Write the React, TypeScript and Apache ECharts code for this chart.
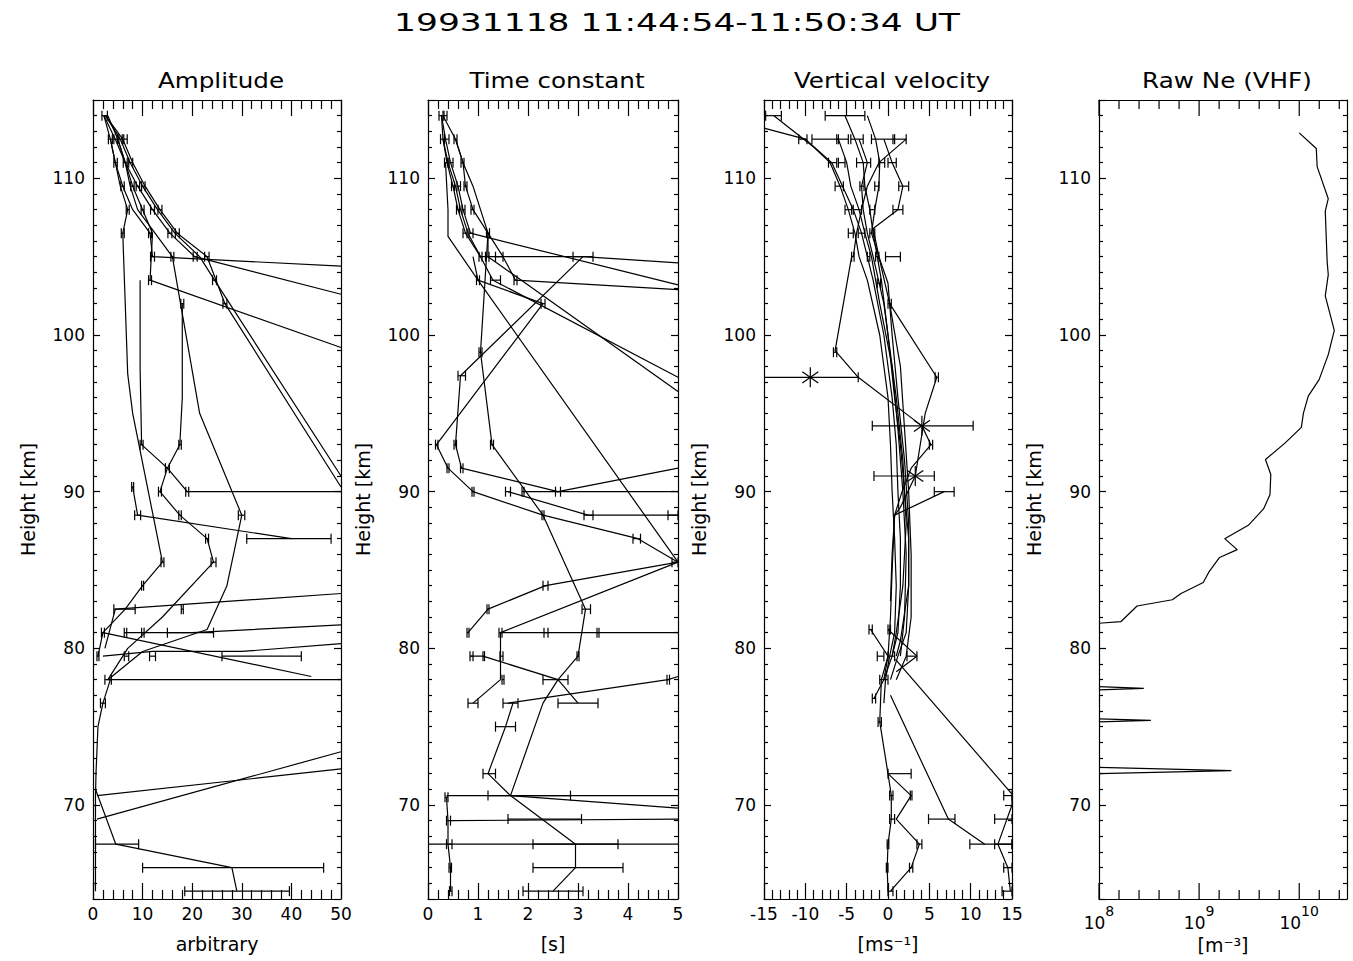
import React, { useEffect, useRef } from "react";
import * as echarts from "echarts";

const FONT = "DejaVu Sans";
const H_MIN = 64;
const H_MAX = 115;

const mainTitle = "19931118 11:44:54-11:50:34 UT";
const panelTitles = ["Amplitude", "Time constant", "Vertical velocity", "Raw Ne (VHF)"];
const xNames = ["arbitrary", "[s]", "[ms⁻¹]", "[m⁻³]"];
const yName = "Height [km]";

// ---------- Panel 1: Amplitude (value, height) ----------
const amp01 = [[2.2,114],[3.5,112.5],[4.5,111],[6,109.5],[8,108],[11.5,106.5],[12,105],[50,104.4]];
const amp02 = [[2.2,114],[4.5,112.5],[6.5,111],[9,109.5],[12,108],[15.5,106.5],[20.5,105],[50,102.6]];
const amp03 = [[2.5,114],[5.5,112.5],[7.5,111],[10,109.5],[13,108],[16.5,106.5],[21.5,105],[24.5,103.5],[50,91]];
const amp04 = [[2.5,114],[6,112.5],[8,111],[10.5,109.5],[13.5,108],[17,106.5],[23,105],[26.6,102],[50,90.3]];
const amp05 = [[3,114],[5,112.5],[6.5,111],[8,109.5],[10,108],[12,106.5],[11.5,103.5],[50,99.2]];
const amp06 = [[3.5,112.5],[4.5,111],[5.5,109.5],[7,108],[6,106.5],[7,97.5],[8,95],[14,85.5],[10,84],[6.5,82.5],[2,81],[1,79.5]];
const amp07 = [[5,112.5],[6.5,111],[7.5,109.5],[9,108],[12.5,106.5],[16,105],[21.5,95],[30,88.5],[27,84],[23,81.2],[10,79.8],[3,78]];
const amp08 = [[9.5,103.5],[9.5,97.8],[9.8,93],[15,91.5],[19,90],[50,90]];
const amp09 = [[18,102],[18,96],[17.5,93],[15,91.5],[13.5,90],[17.5,88.5],[23,87],[24.3,85.5],[14,82],[7,80],[3,78]];
const amp10 = [[8,90.3],[9,88.5],[40,87]];
const amp11 = [[2.4,80],[4.5,82.5],[50,83.5]];
const amp12 = [[2,81],[44,78.2]];
const amp13 = [[6.5,81],[20,81],[50,81.5]];
const amp14 = [[2,79.5],[12,79.8],[30,79.8],[50,80.3]];
const amp15 = [[3,78],[50,78]];
const amp16 = [[3.5,78],[2,76.5],[1,75],[0.6,72],[0.5,70.5],[0.5,67.5],[0.5,64.5]];
const amp17 = [[0.8,70.6],[50,72.3]];
const amp18 = [[0.8,69.1],[50,73.4]];
const amp19 = [[0.5,71],[4.6,67.5],[28,66],[29,64.5]];
const ampLines = [amp01,amp02,amp03,amp04,amp05,amp06,amp07,amp08,amp09,amp10,amp11,amp12,amp13,amp14,amp15,amp16,amp17,amp18,amp19];
// error bars: [height, low, high]
const ampErr = [
  [114,1.8,2.9],
  [112.5,3.1,3.9],[112.5,4.2,4.9],[112.5,5.2,5.9],[112.5,6.2,6.9],
  [111,4.2,4.9],[111,6.1,6.9],[111,7.2,8],
  [109.5,5.6,6.3],[109.5,7.6,8.3],[109.5,8.7,9.4],[109.5,9.8,10.5],
  [108,6.7,7.3],[108,9.7,10.3],[108,11.6,12.4],[108,13.1,13.9],
  [106.5,5.7,6.3],[106.5,11.2,11.8],[106.5,15.1,15.9],[106.5,16.6,17.4],
  [105,11.6,12.4],[105,15.7,16.3],[105,20.2,21],[105,22.5,23.4],
  [103.5,11.2,11.8],[103.5,24.1,24.9],
  [102,26.2,27],[102,17.7,18.3],
  [93,9.5,10.1],[93,17.3,17.8],[91.5,14.6,15.4],
  [90.3,7.8,8.2],[90,13.2,13.8],[90,18.7,19.3],
  [88.5,8.4,9.6],[88.5,17.3,17.8],[88.5,29.3,30.6],
  [87,22.7,23.3],[87,31,48],
  [85.5,13.7,14.3],[85.5,23.8,24.8],
  [84,9.8,10.2],
  [82.5,4.2,8.5],[82.5,17.8,18.2],
  [81,1.7,2.3],[81,6.3,6.8],[81,9.8,10.3],[81,15,24.3],
  [79.5,0.8,1.2],[79.5,6.3,7.2],[79.5,11.4,12.6],[79.5,26,42],
  [78,2.4,3.7],[76.5,1.5,2.5],
  [67.5,0.5,9.2],[66,10,46.5],[64.5,18.5,39.6],
];

// ---------- Panel 2: Time constant [s] ----------
const tc01 = [[0.27,114],[0.3,112.5],[0.38,111],[0.5,109.5],[0.6,108],[0.75,106.5],[1.05,105],[3.1,105],[5,104.6]];
const tc02 = [[0.27,114],[0.35,112.5],[0.45,111],[0.6,109.5],[0.7,108],[0.85,106.5],[5,103.2]];
const tc03 = [[0.3,114],[0.55,112.5],[0.7,111],[0.75,109.5],[0.9,108],[1.2,106.5],[1.5,105],[1.75,103.5],[5,102.9]];
const tc04 = [[0.3,112.5],[0.4,111],[0.55,109.5],[0.65,108],[0.8,106.5],[1.05,105],[1.3,103.5],[5,97.3]];
const tc05 = [[0.55,112.5],[0.7,111],[0.9,109.5],[1.05,108],[1.2,106.5],[1.2,105],[5,96.4]];
const tc06 = [[0.35,111],[0.4,108],[0.4,106.3],[1.0,103.5],[2.3,102],[0.17,93],[0.4,91.5],[0.9,90],[2.3,88.5],[4.2,87],[5,85.5]];
const tc07 = [[3.1,105],[0.65,97.4],[0.55,93],[0.67,91.5],[2.6,90],[5,91.5]];
const tc08 = [[1.2,106.5],[1.05,98.9],[1.28,93],[2.3,88.5],[3.15,82.5],[3.0,79.5],[2.6,78],[2.3,76.5],[1.65,70.6],[2.95,67.5],[2.95,66],[2.5,64.5]];
const tc09 = [[1.6,90],[3.2,88.5],[4.9,88.5],[5,88.5]];
const tc10 = [[1.9,90],[2.6,90],[5,90]];
const tc11 = [[0.8,81],[1.2,82.5],[2.35,84],[5,85.5]];
const tc12 = [[1.45,78],[1.45,79.5],[1.45,81],[5,85.5]];
const tc13 = [[1.45,81],[5,81]];
const tc14 = [[0.85,79.5],[1.1,79.5],[2.6,78],[3.0,76.5]];
const tc15 = [[1.45,78],[0.9,76.5]];
const tc16 = [[1.6,76.5],[4.8,78],[5,78.2]];
const tc17 = [[1.7,76.5],[1.55,75],[1.2,72],[1.65,70.6],[5,69.8]];
const tc18 = [[0.37,70.6],[5,70.6]];
const tc19 = [[0.45,69],[5,69.1]];
const tc20 = [[0,67.5],[5,67.5]];
const tc21 = [[0.37,70.5],[0.4,69],[0.4,67.5],[0.45,66],[0.45,64.5]];
const tc22 = [[0.9,105],[1.0,103.5],[5,85.5]];
const tcLines = [tc01,tc02,tc03,tc04,tc05,tc06,tc07,tc08,tc09,tc10,tc11,tc12,tc13,tc14,tc15,tc16,tc17,tc18,tc19,tc20,tc21,tc22];
const tcErr = [
  [114,0.22,0.32],[114,0.3,0.38],
  [112.5,0.25,0.33],[112.5,0.33,0.42],[112.5,0.52,0.58],
  [111,0.33,0.4],[111,0.42,0.5],[111,0.66,0.72],
  [109.5,0.47,0.53],[109.5,0.58,0.65],[109.5,0.72,0.78],
  [108,0.57,0.63],[108,0.68,0.74],[108,0.86,0.92],
  [106.5,0.7,0.78],[106.5,0.82,0.9],[106.5,1.17,1.23],
  [105,1.02,1.08],[105,1.15,1.22],[105,1.35,1.5],[105,2.9,3.3],
  [103.5,0.97,1.03],[103.5,1.25,1.45],[103.5,1.72,1.78],
  [102,2.26,2.34],[98.9,1.02,1.08],[97.4,0.6,0.75],
  [93,0.15,0.2],[93,0.52,0.57],[93,1.25,1.31],
  [91.5,0.38,0.42],[91.5,0.65,0.7],
  [90,0.88,0.92],[90,1.55,1.65],[90,1.88,1.92],[90,2.55,2.65],
  [88.5,2.28,2.32],[88.5,3.12,3.3],[88.5,4.8,5],
  [87,4.1,4.25],[85.5,4.88,5],[84,2.3,2.4],
  [82.5,1.18,1.22],[82.5,3.08,3.25],
  [81,0.78,0.82],[81,1.42,1.48],[81,2.32,2.4],[81,3.38,3.42],
  [79.5,0.84,0.9],[79.5,1.1,1.13],[79.5,1.44,1.5],[79.5,2.98,3.02],
  [78,1.48,1.52],[78,2.3,2.8],[78,4.78,4.83],
  [76.5,0.8,1],[76.5,1.5,1.8],[76.5,2.6,3.4],
  [75,1.35,1.75],[72,1.1,1.35],
  [70.6,1.2,2.85],[69.1,1.6,3.07],[67.5,2.1,3.8],[66,2.1,3.9],[64.5,1.9,3.1],
  [70.5,0.34,0.4],[69,0.37,0.45],[67.5,0.37,0.48],[66,0.42,0.47],[64.5,0.43,0.48],
];

// ---------- Panel 3: Vertical velocity [m/s] ----------
const vv01 = [[-13.8,114],[-9,112],[-7,111],[-5.8,109.5],[-4.8,108],[-4,106.5],[-3.5,105],[-2.5,103.5],[-1,100],[0,96],[0.3,93],[0.5,90],[0.8,87],[1,84],[0.8,81],[0.2,79.5],[-0.3,78],[-0.5,76.5]];
const vv02 = [[-15,113.2],[-10,112.5],[-6.8,111],[-5.5,109.5],[-4.2,108],[-3.2,106.5],[-2.5,105],[-1.8,103.5],[-0.5,100],[0.5,96],[1,93],[1.2,90],[1.5,87],[1.5,84],[1.2,81],[0.5,79.5],[-0.5,78],[-1.7,76.8]];
const vv03 = [[-5.2,114],[-4,112.5],[-3,111],[-2.8,109.5],[-2.2,108],[-1.8,106.5],[-1.3,105],[-0.8,103.5],[0,100],[0.8,96],[1.5,93],[2,90],[2.5,87],[2.5,84],[2.2,81],[1.2,79.5],[0.3,78]];
const vv04 = [[-2.5,114],[-1.5,112.5],[-1,111],[-1.1,109.5],[-1.6,108],[-2,106.5],[-1.1,105],[0.2,102],[1.5,98],[2,94],[2.5,90],[2.8,86],[2.8,82],[2.2,79.5],[1,78]];
const vv05 = [[-4.4,105],[-6.4,99],[-3.6,97.3],[4.1,94.2],[5.2,93],[2.8,91.5],[1.7,90],[0.8,88.5],[0.5,85],[0.3,82],[0,79.5],[-0.8,78],[-1,75.3],[0,72],[0.4,70.6],[0.4,69.1],[0,67.5],[-0.1,66],[0,64.5]];
const vv06 = [[0.2,102],[5.9,97.3],[4.5,95],[3.3,91],[1.5,89],[0.8,88.5]];
const vv07 = [[6.8,90],[0.8,88.5],[0.5,86],[0.3,83]];
const vv08 = [[2.2,112.5],[-1.1,111],[-2.5,109.5],[-3.2,108],[-3.8,106.5],[-4.2,105]];
const vv09 = [[-0.5,112.5],[0.5,111],[1.8,109.5],[1.2,108],[-1.8,106.8],[-1.1,105],[0,103.3],[0.5,100],[1.2,96],[2,92],[2.5,88],[2.5,84],[1.5,80.5],[1,79.5]];
const vv10 = [[-2.1,81.2],[0,79.5],[-0.5,78]];
const vv11 = [[0.9,79.3],[15,70.7]];
const vv12 = [[0.3,77],[7.3,69.1],[11.7,67.5]];
const vv13 = [[15,70.6],[15,70],[13.3,67.5],[14.5,66],[14.8,64.5]];
const vv14 = [[0,72],[2.8,70.6],[1,69.1],[3.8,67.5],[2.8,66],[0.3,64.5]];
const vv15 = [[0,81.2],[3.5,79.5],[1,78.5]];
const vv16 = [[-6,112.5],[-5,111],[-4.5,109.5],[-3.5,108],[-2.8,106.5],[-2,105],[-1,102],[0.5,98],[1.2,94],[1.8,90],[2.2,86],[2,82],[1.5,79.5]];
const vv17 = [[-3.5,112.5],[-2.5,111],[-3.2,109.5],[-3,108],[-2.5,106.5],[-1.8,105],[-0.5,102],[1,96],[1.8,92],[2.2,88],[1.8,84],[1,81],[0.5,79.5]];
const vvLines = [vv01,vv02,vv03,vv04,vv05,vv06,vv07,vv08,vv09,vv10,vv11,vv12,vv13,vv14,vv15,vv16,vv17];
const vvErr = [
  [114,-14.8,-12.9],[114,-7.6,-2.8],
  [112.5,-10.8,-9.8],[112.5,-9.2,-6],[112.5,-6.2,-4.8],[112.5,-4.5,-3],[112.5,-2,0.8],[112.5,0.6,2.2],
  [111,-7.2,-6.2],[111,-6,-5.2],[111,-3.8,-2.1],[111,-1.1,-0.4],[111,0,1],
  [109.5,-6.4,-5.4],[109.5,-3.4,-2.9],[109.5,-1.6,-1.1],[109.5,1.3,2.5],
  [108,-5.2,-4.4],[108,-4.2,-3.2],[108,-2.2,-1.6],[108,0.6,1.8],
  [106.5,-4.8,-4.2],[106.5,-3.6,-2.8],[106.5,-2.2,-1.6],
  [105,-4.4,-4.1],[105,-2.5,-2.2],[105,-1.5,-1.1],[105,-0.3,1.5],
  [103.3,-1.3,-0.9],[102,0,0.4],[98.9,-6.6,-6.2],[97.3,-15,-3.6],[97.3,5.7,6.1],
  [94.2,-1.9,10.3],[93,5,5.4],[91,-1.7,5.6],[90,5.6,8.0],
  [81.2,-2.3,-1.9],[81.2,0,0.3],[79.5,-1.3,-0.5],[79.5,0,0.8],[79.5,2.3,3.5],[78,-1,0],[76.8,-1.9,-1.5],[75.3,-1.2,-0.8],
  [72,0,2.8],[70.6,0.2,0.6],[70.6,2.7,2.9],[70.6,14,15],[69.1,0.2,0.8],[69.1,4.9,8.1],[69.1,12.9,15],
  [67.5,-0.1,0.1],[67.5,3.5,4.1],[67.5,9.9,15],[67.5,12.9,15],[66,-0.2,0],[66,2.6,3.0],[66,14,15],[64.5,0,0.6],[64.5,13.8,15],
];
const vvStars = [[-9.4,97.3],[4.1,94.2],[3.3,91]];

// ---------- Panel 4: Raw Ne (VHF) [m^-3] ----------
const neProfile = [[1.0e10,112.9],[1.48e10,111.9],[1.51e10,110.75],[1.95e10,108.7],[1.82e10,107.9],[1.9e10,104.7],[1.95e10,103.85],[1.82e10,102.5],[2.24e10,100.3],[1.95e10,98.75],[1.58e10,97.15],[1.23e10,96.1],[1.1e10,95.0],[1.05e10,94.1],[7.2e9,93.1],[4.6e9,92.05],[5.2e9,91.1],[5.1e9,89.8],[4.4e9,88.9],[3.1e9,87.85],[1.8e9,87.0],[2.4e9,86.3],[1.6e9,85.8],[1.26e9,84.9],[1.1e9,84.2],[6.6e8,83.5],[5.4e8,83.1],[2.4e8,82.7],[1.65e8,81.7],[1.0e8,81.6]];
const neSpike1 = [[1e8,77.55],[2.8e8,77.45],[1e8,77.35]];
const neSpike2 = [[1e8,75.5],[3.3e8,75.4],[1e8,75.3]];
const neSpike3 = [[1e8,72.4],[2.1e9,72.2],[1e8,72.0]];
const neLines = [neProfile, neSpike1, neSpike2, neSpike3];
// tick exponents on the log axis (minor ticks every 0.2 decade)
const neTickExponents = [8, 8.2, 8.4, 8.6, 8.8, 9, 9.2, 9.4, 9.6, 9.8, 10, 10.2, 10.4];

// ---------- layout ----------
const GRID_LEFT = [93, 428, 764, 1099];
const GRID_W = [248, 250, 248, 248];
const GRID_TOP = 100;
const GRID_H = 799;

const BLACK = "#000";
const LW = 1.2;

function lineSeries(data: number[][], p: number) {
  return {
    type: "line", xAxisIndex: p * 2, yAxisIndex: p * 2, data,
    symbol: "none", showSymbol: false, clip: true, silent: true,
    lineStyle: { color: BLACK, width: LW }, emphasis: { disabled: true }, z: 3,
  };
}

function errSeries(data: number[][], p: number) {
  return {
    type: "custom", xAxisIndex: p * 2, yAxisIndex: p * 2, data, clip: true, silent: true,
    encode: { x: [1, 2], y: 0 }, z: 4,
    renderItem: (_params: any, api: any) => {
      const h = api.value(0), lo = api.value(1), hi = api.value(2);
      const a = api.coord([lo, h]);
      const b = api.coord([hi, h]);
      const c = 5;
      const st = { stroke: BLACK, lineWidth: LW };
      return {
        type: "group",
        children: [
          { type: "line", shape: { x1: a[0], y1: a[1], x2: b[0], y2: b[1] }, style: st },
          { type: "line", shape: { x1: a[0], y1: a[1] - c, x2: a[0], y2: a[1] + c }, style: st },
          { type: "line", shape: { x1: b[0], y1: b[1] - c, x2: b[0], y2: b[1] + c }, style: st },
        ],
      };
    },
  };
}

function starSeries(data: number[][], p: number) {
  return {
    type: "custom", xAxisIndex: p * 2, yAxisIndex: p * 2, data, clip: true, silent: true,
    encode: { x: 0, y: 1 }, z: 5,
    renderItem: (_params: any, api: any) => {
      const c = api.coord([api.value(0), api.value(1)]);
      const r = 10;
      const d = r * 0.8;
      const st = { stroke: BLACK, lineWidth: LW };
      return {
        type: "group",
        children: [
          { type: "line", shape: { x1: c[0], y1: c[1] - r, x2: c[0], y2: c[1] + r }, style: st },
          { type: "line", shape: { x1: c[0] - d, y1: c[1] - d * 0.7, x2: c[0] + d, y2: c[1] + d * 0.7 }, style: st },
          { type: "line", shape: { x1: c[0] - d, y1: c[1] + d * 0.7, x2: c[0] + d, y2: c[1] - d * 0.7 }, style: st },
        ],
      };
    },
  };
}

function logTickSeries(exps: number[], p: number) {
  return {
    type: "custom", xAxisIndex: p * 2, yAxisIndex: p * 2,
    data: exps.map((e) => [Math.pow(10, e), H_MIN, e]), clip: false, silent: true,
    encode: { x: 0, y: 1 }, z: 6,
    renderItem: (_params: any, api: any) => {
      const v = api.value(0);
      const e = api.value(2);
      const major = Math.abs(e - Math.round(e)) < 1e-6;
      const len = major ? 16 : 9;
      const b = api.coord([v, H_MIN]);
      const t = api.coord([v, H_MAX]);
      const st = { stroke: BLACK, lineWidth: LW };
      return {
        type: "group",
        children: [
          { type: "line", shape: { x1: b[0], y1: b[1], x2: b[0], y2: b[1] - len }, style: st },
          { type: "line", shape: { x1: t[0], y1: t[1], x2: t[0], y2: t[1] + len }, style: st },
        ],
      };
    },
  };
}

const labelStyle = { color: BLACK, fontFamily: FONT, fontSize: 17 };
const nameStyle = { color: BLACK, fontFamily: FONT, fontSize: 19 };

function linearX(p: number, min: number, max: number, interval: number) {
  const common = {
    type: "value", gridIndex: p, min, max, interval,
    axisLine: { show: true, onZero: false, lineStyle: { color: BLACK, width: LW } },
    axisTick: { show: true, inside: true, length: 16, lineStyle: { color: BLACK, width: LW } },
    minorTick: { show: true, splitNumber: 5, length: 9, lineStyle: { color: BLACK, width: LW } },
    splitLine: { show: false },
    minorSplitLine: { show: false },
  };
  return [
    {
      ...common, position: "bottom",
      axisLabel: { ...labelStyle, margin: 6 },
      name: xNames[p], nameLocation: "middle", nameGap: 35, nameTextStyle: nameStyle,
    },
    { ...common, position: "top", axisLabel: { show: false } },
  ];
}

function logX(p: number) {
  const common = {
    type: "log", logBase: 10, gridIndex: p, min: 1e8, max: 3e10,
    axisLine: { show: true, onZero: false, lineStyle: { color: BLACK, width: LW } },
    axisTick: { show: false },
    minorTick: { show: false },
    splitLine: { show: false },
  };
  return [
    {
      ...common, position: "bottom",
      axisLabel: {
        margin: 5, showMaxLabel: false,
        formatter: (v: number) => {
          const lg = Math.log10(v);
          const r = Math.round(lg);
          return Math.abs(lg - r) < 1e-3 ? `{b|10}{s|${r}}` : "";
        },
        rich: {
          b: { ...labelStyle, lineHeight: 27, verticalAlign: "bottom" },
          s: { color: BLACK, fontFamily: FONT, fontSize: 14, lineHeight: 27, verticalAlign: "top" },
        },
      },
      name: xNames[p], nameLocation: "middle", nameGap: 35, nameTextStyle: nameStyle,
    },
    { ...common, position: "top", axisLabel: { show: false } },
  ];
}

function yAxes(p: number) {
  const common = {
    type: "value", gridIndex: p, min: H_MIN, max: H_MAX, splitNumber: 5,
    axisLine: { show: true, onZero: false, lineStyle: { color: BLACK, width: LW } },
    axisTick: { show: true, inside: true, length: 7, lineStyle: { color: BLACK, width: LW } },
    minorTick: { show: true, splitNumber: 10, length: 4, lineStyle: { color: BLACK, width: LW } },
    splitLine: { show: false },
    minorSplitLine: { show: false },
  };
  return [
    {
      ...common, position: "left",
      axisLabel: { ...labelStyle, margin: 8, showMinLabel: false, showMaxLabel: false },
      name: yName, nameLocation: "middle", nameGap: 56, nameRotate: 90, nameTextStyle: nameStyle,
    },
    { ...common, position: "right", axisLabel: { show: false } },
  ];
}

function textEl(text: string, x: number, y: number, size: number, sx: number) {
  return {
    type: "text", x, y, scaleX: sx, silent: true,
    style: {
      text, fill: BLACK, fontFamily: FONT, fontSize: size, fontWeight: "normal",
      align: "center", verticalAlign: "middle", textAlign: "center", textVerticalAlign: "middle",
    },
  };
}

function buildOption() {
  const grids = [0, 1, 2, 3].map((p) => ({ left: GRID_LEFT[p], top: GRID_TOP, width: GRID_W[p], height: GRID_H }));
  const xAxis = [
    ...linearX(0, 0, 50, 10),
    ...linearX(1, 0, 5, 1),
    ...linearX(2, -15, 15, 5),
    ...logX(3),
  ];
  const yAxis = [...yAxes(0), ...yAxes(1), ...yAxes(2), ...yAxes(3)];
  const series: any[] = [
    ...ampLines.map((d) => lineSeries(d, 0)),
    errSeries(ampErr, 0),
    ...tcLines.map((d) => lineSeries(d, 1)),
    errSeries(tcErr, 1),
    ...vvLines.map((d) => lineSeries(d, 2)),
    errSeries(vvErr, 2),
    starSeries(vvStars, 2),
    ...neLines.map((d) => lineSeries(d, 3)),
    logTickSeries(neTickExponents, 3),
  ];
  const graphic = [
    textEl(mainTitle, 677, 22, 25, 1.38),
    ...panelTitles.map((t, p) => textEl(t, GRID_LEFT[p] + GRID_W[p] / 2 + 4, 80, 22, 1.12)),
  ];
  return {
    animation: false,
    backgroundColor: "#fff",
    textStyle: { fontFamily: FONT },
    grid: grids,
    xAxis,
    yAxis,
    series,
    graphic,
  };
}

export default function App() {
  const ref = useRef<HTMLDivElement>(null);
  useEffect(() => {
    const chart = echarts.init(ref.current as HTMLDivElement, null, { renderer: "svg" });
    chart.setOption(buildOption() as any);
    return () => chart.dispose();
  }, []);
  return (
    <div
      ref={ref}
      style={{ position: "fixed", left: 0, top: 0, width: 1353, height: 961, background: "#fff" }}
    />
  );
}
